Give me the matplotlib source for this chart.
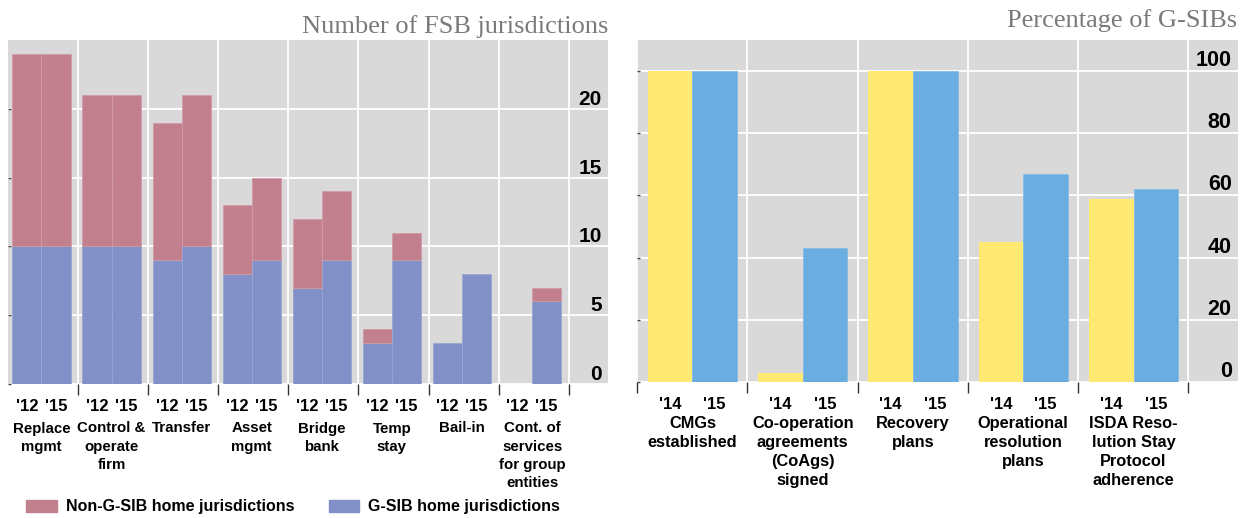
import matplotlib.pyplot as plt
from matplotlib.patches import Patch

plt.rcParams['font.family'] = ['Liberation Sans', 'DejaVu Sans']

# Left panel: resolution powers, number of FSB jurisdictions
powers = ['Replace\nmgmt', 'Control &\noperate\nfirm', 'Transfer', 'Asset\nmgmt',
          'Bridge\nbank', 'Temp\nstay', 'Bail-in', 'Cont. of\nservices\nfor group\nentities']
years_left = ["'12", "'15"]
gsib_12 = [10, 10, 9, 8, 7, 3, 3, 0]
gsib_15 = [10, 10, 10, 9, 9, 9, 8, 6]
non_gsib_12 = [14, 11, 10, 5, 5, 1, 0, 0]
non_gsib_15 = [14, 11, 11, 6, 5, 2, 0, 1]
left_yticks = [0, 5, 10, 15, 20]

# Right panel: percentage of G-SIBs
measures = ['CMGs\nestablished', 'Co-operation\nagreements\n(CoAgs)\nsigned', 'Recovery\nplans',
            'Operational\nresolution\nplans', 'ISDA Reso-\nlution Stay\nProtocol\nadherence']
years_right = ["'14", "'15"]
pct_14 = [100, 3, 100, 45, 59]
pct_15 = [100, 43, 100, 67, 62]
right_yticks = [0, 20, 40, 60, 80, 100]

RED = '#c27f8e'
BLUE = '#8190c6'
YELLOW = '#ffe972'
SKY = '#6aade0'
BG = '#d9d9d9'


def edge_widths(values):
    # no outline on empty segments
    return [0.6 if v > 0 else 0 for v in values]


def style_axis(ax, xmax, ymax, yticks, xticks, ysize):
    ax.set_facecolor(BG)
    ax.set_xlim(0, xmax)
    ax.set_ylim(0, ymax)
    for s in ax.spines.values():
        s.set_visible(False)
    ax.set_yticks(yticks)
    ax.set_yticklabels([])
    ax.set_xticks(xticks)
    ax.set_xticklabels([])
    ax.tick_params(axis='y', direction='in', length=2, width=1, color='#444444')
    ax.tick_params(axis='x', direction='out', length=8, width=1, color='#333333')
    ax.grid(color='white', linewidth=1.3)
    ax.set_axisbelow(True)
    # y labels sit inside the plot, just above each gridline
    for v in yticks:
        ax.annotate(str(v), xy=(1, v), xycoords=('axes fraction', 'data'),
                    xytext=(-4.5, 0), textcoords='offset points',
                    ha='right', va='bottom', fontsize=ysize, fontweight='bold')


def group_labels(ax, names, years, offs, yr_off, name_off, name_size, spacing):
    for i, name in enumerate(names):
        for off, yr in zip(offs, years):
            ax.annotate(yr, xy=(i + off, 0), xycoords=('data', 'axes fraction'),
                        xytext=(0, -yr_off), textcoords='offset points',
                        ha='center', va='top', fontsize=12, fontweight='bold')
        ax.annotate(name, xy=(i + sum(offs) / 2, 0), xycoords=('data', 'axes fraction'),
                    xytext=(0, -name_off), textcoords='offset points',
                    ha='center', va='top', fontsize=name_size, fontweight='bold',
                    linespacing=spacing)


fig = plt.figure(figsize=(12.46, 5.18), dpi=100)

# Left chart
ax1 = fig.add_axes([8 / 1246, 134 / 518, 600 / 1246, 344 / 518])
n = len(powers)
x = list(range(n))
w = 0.415
x12 = [i + 0.27 for i in x]
x15 = [i + 0.685 for i in x]
ax1.bar(x12, gsib_12, w, color=BLUE, edgecolor='#9ba6d2', linewidth=edge_widths(gsib_12))
ax1.bar(x12, non_gsib_12, w, bottom=gsib_12, color=RED, edgecolor='#d09ca8',
        linewidth=edge_widths(non_gsib_12))
ax1.bar(x15, gsib_15, w, color=BLUE, edgecolor='#9ba6d2', linewidth=edge_widths(gsib_15))
ax1.bar(x15, non_gsib_15, w, bottom=gsib_15, color=RED, edgecolor='#d09ca8',
        linewidth=edge_widths(non_gsib_15))
style_axis(ax1, 8.56, 25, left_yticks, list(range(1, n + 1)), 15)
group_labels(ax1, powers, years_left, (0.27, 0.685), 11, 27, 10.8, 1.38)

fig.text(608 / 1246, 1 - 33 / 518, 'Number of FSB jurisdictions', ha='right', va='baseline',
         fontsize=19, color='#7a7a7a', family=['Liberation Serif'])

# Right chart
ax2 = fig.add_axes([637 / 1246, 136 / 518, 601 / 1246, 342 / 518])
m = len(measures)
w2 = 0.405
x14 = [i + 0.3 for i in range(m)]
x15r = [i + 0.705 for i in range(m)]
ax2.bar(x14, pct_14, w2, color=YELLOW)
ax2.bar(x15r, pct_15, w2, color=SKY, edgecolor='#85bbe4', linewidth=0.6)
style_axis(ax2, 5.45, 110, right_yticks, list(range(0, m + 1)), 15.5)
group_labels(ax2, measures, years_right, (0.3, 0.705), 10.5, 24.5, 11.8, 1.32)

fig.text(1237 / 1246, 1 - 27 / 518, 'Percentage of G-SIBs', ha='right', va='baseline',
         fontsize=19, color='#7a7a7a', family=['Liberation Serif'])

# Legend
fig.legend(handles=[Patch(color=RED), Patch(color=BLUE)],
           labels=['Non-G-SIB home jurisdictions', 'G-SIB home jurisdictions'],
           loc='center left', bbox_to_anchor=(12 / 1246, 1 - 507 / 518), ncol=2,
           frameon=False, prop={'size': 11.5, 'weight': 'bold'},
           handlelength=1.9, handleheight=0.8, handletextpad=0.55, columnspacing=2.2)

fig.savefig('out.png', dpi=100)
